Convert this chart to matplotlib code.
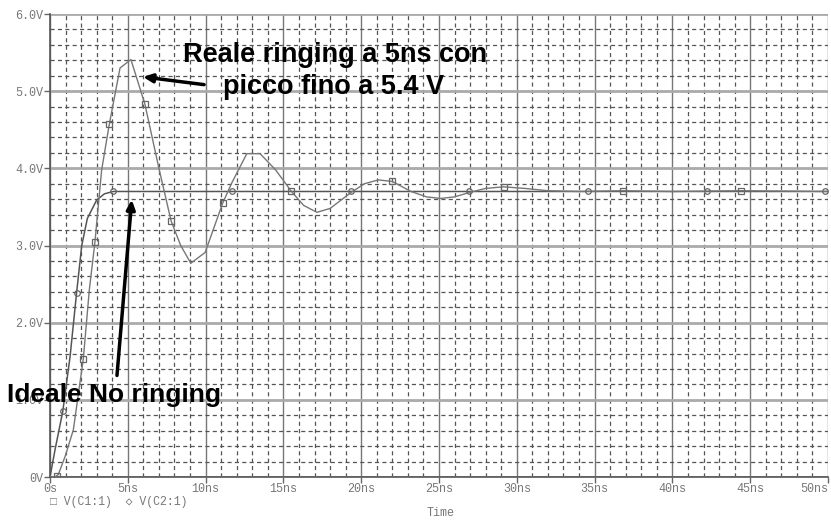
import matplotlib
matplotlib.use("Agg")
import matplotlib.pyplot as plt
from matplotlib.ticker import MultipleLocator, FixedLocator

# --- data (time in ns, voltage in V) ---
t_real = [0.0, 0.3, 0.53, 0.96, 1.5, 2.14, 2.53, 2.89, 3.32, 3.81, 4.5, 5.2, 6.1, 7.0,
          7.78, 8.4, 9.05, 9.97, 11.1, 11.68, 12.65, 13.5, 14.5, 15.48, 16.3, 17.15,
          18.0, 19.3, 20.2, 21.1, 22.0, 23.2, 24.2, 25.1, 26.0, 27.0, 28.0, 29.15,
          30.5, 32.0, 34.0, 36.8, 40.0, 44.4, 50.0]
v_real = [0.0, 0.0, 0.03, 0.26, 0.61, 1.53, 2.43, 3.05, 3.98, 4.57, 5.30, 5.41, 4.83, 4.0,
          3.32, 3.0, 2.77, 2.91, 3.55, 3.81, 4.19, 4.19, 3.98, 3.71, 3.52, 3.43,
          3.48, 3.68, 3.80, 3.85, 3.83, 3.70, 3.63, 3.61, 3.63, 3.69, 3.74, 3.76,
          3.74, 3.71, 3.70, 3.71, 3.70, 3.71, 3.70]
t_real_mk = [0.45, 2.14, 2.89, 3.81, 6.1, 7.78, 11.1, 15.48, 22.0, 29.15, 36.8, 44.4]
v_real_mk = [0.01, 1.53, 3.05, 4.57, 4.83, 3.32, 3.55, 3.71, 3.83, 3.76, 3.71, 3.71]

t_ideal = [0.0, 0.32, 0.82, 1.29, 1.71, 2.04, 2.4, 3.0, 3.5, 4.07, 50.0]
v_ideal = [0.0, 0.35, 0.85, 1.56, 2.39, 3.0, 3.35, 3.59, 3.67, 3.70, 3.70]
t_ideal_mk = [0.82, 1.71, 4.07, 11.68, 19.36, 26.96, 34.55, 42.2, 49.8]
v_ideal_mk = [0.85, 2.39, 3.70, 3.70, 3.70, 3.70, 3.70, 3.70, 3.70]

x_ticks = [0, 5, 10, 15, 20, 25, 30, 35, 40, 45, 50]
x_labels = ["0s", "5ns", "10ns", "15ns", "20ns", "25ns", "30ns", "35ns", "40ns", "45ns", "50ns"]
y_ticks = [0, 1, 2, 3, 4, 5, 6]
y_labels = ["0V", "1.0V", "2.0V", "3.0V", "4.0V", "5.0V", "6.0V"]

W, H = 831, 520
fig = plt.figure(figsize=(W / 100, H / 100), dpi=100)
ax = fig.add_axes([50 / W, (H - 477) / H, (828 - 50) / W, (477 - 14) / H])
ax.set_xlim(0, 50)
ax.set_ylim(0, 6)

mono = ["Liberation Mono", "DejaVu Sans Mono"]
tick_col = "#777777"

ax.xaxis.set_major_locator(FixedLocator(x_ticks))
ax.set_xticklabels(x_labels, fontfamily=mono, fontsize=8.5, color=tick_col)
ax.get_xticklabels()[-1].set_horizontalalignment("right")
ax.yaxis.set_major_locator(FixedLocator(y_ticks))
ax.set_yticklabels(y_labels, fontfamily=mono, fontsize=8.5, color=tick_col)
ax.xaxis.set_minor_locator(MultipleLocator(1))
ax.yaxis.set_minor_locator(MultipleLocator(0.2))
ax.tick_params(which="major", length=4, width=1, color="#666666", direction="out")
ax.tick_params(axis="x", which="major", pad=0)
ax.tick_params(axis="y", which="major", pad=1)
ax.tick_params(which="minor", length=0)

ax.yaxis.grid(True, which="major", color="#aaaaaa", lw=2.0, ls="-")
ax.xaxis.grid(True, which="major", color="#777777", lw=1.0, ls="-")
ax.grid(True, which="minor", color="#555555", lw=0.9, ls=(0, (3.3, 2.6)))
ax.set_axisbelow(True)

for s in ["top", "right"]:
    ax.spines[s].set_visible(False)
for s in ["left", "bottom"]:
    ax.spines[s].set_color("#555555")
    ax.spines[s].set_linewidth(1.2)

ax.plot(t_ideal, v_ideal, color="#555555", lw=1.1, zorder=3)
ax.plot(t_real, v_real, color="#777777", lw=1.0, zorder=3)
ax.plot(t_real_mk, v_real_mk, ls="none", marker="s", ms=4, mfc="none",
        mec="#666666", mew=0.9, zorder=4)
ax.plot(t_ideal_mk, v_ideal_mk, ls="none", marker="o", ms=4, mfc="none",
        mec="#666666", mew=0.9, zorder=4)

fig.text(441 / W, 1 - 513 / H, "Time", fontfamily=mono, fontsize=8.5, color=tick_col,
         ha="center", va="center")
fig.text(50 / W, 1 - 501.5 / H, "\u25a1 V(C1:1)  \u25c7 V(C2:1)", fontfamily=mono,
         fontsize=8.3, color=tick_col, ha="left", va="center")

bold = dict(fontfamily="Liberation Sans", fontweight="bold", color="black", zorder=6)
ax.annotate("", xy=(5.79, 5.19), xytext=(10.08, 5.08),
            arrowprops=dict(arrowstyle="-|>,head_length=0.55,head_width=0.25", color="black", lw=2.5),
            zorder=6)
ax.annotate("", xy=(5.27, 3.63), xytext=(4.29, 1.28),
            arrowprops=dict(arrowstyle="-|>,head_length=0.55,head_width=0.25", color="black", lw=2.5),
            zorder=6)
fig.text(335 / W, 1 - 62 / H, "Reale ringing a 5ns con", fontsize=19.5, ha="center", va="baseline", **bold)
fig.text(334 / W, 1 - 94 / H, "picco fino a 5.4 V", fontsize=19.5, ha="center", va="baseline", **bold)
fig.text(7 / W, 1 - 402 / H, "Ideale No ringing", fontsize=19, ha="left", va="baseline", **bold)

fig.savefig("out.png", dpi=100)
